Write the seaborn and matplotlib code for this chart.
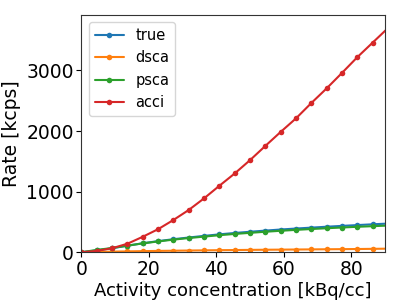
import numpy as np
import pandas as pd
import matplotlib
matplotlib.use("Agg")
import matplotlib.pyplot as plt
import seaborn as sns

# ── data ──────────────────────────────────────────────────────
activity = np.linspace(0, 100, 23)[:21]   # kBq/cc, last point lies past the x limit
true_rate = [0, 30, 66, 108, 148, 183, 215, 243, 270, 295, 318, 338, 357,
             375, 391, 406, 421, 435, 448, 461, 473]
dsca_rate = [0, 5, 10, 14, 18, 22, 25, 28, 31, 34, 36, 39, 41,
             43, 45, 47, 49, 51, 53, 56, 59]
psca_rate = [0, 38, 70, 108, 146, 178, 208, 234, 258, 281, 302, 320, 338,
             354, 369, 383, 396, 408, 420, 430, 440]
acci_rate = [0, 22, 66, 140, 255, 380, 532, 697, 889, 1097, 1300, 1520, 1755,
             1986, 2210, 2463, 2705, 2960, 3220, 3460, 3700]
series = ["true", "dsca", "psca", "acci"]

df = pd.DataFrame({
    "activity": np.tile(activity, 4),
    "rate": np.concatenate([true_rate, dsca_rate, psca_rate, acci_rate]),
    "kind": np.repeat(series, len(activity)),
})

# ── plot ──────────────────────────────────────────────────────
sns.set_style("ticks", {"axes.edgecolor": "0.2", "text.color": "black",
                        "axes.labelcolor": "black", "xtick.color": "black",
                        "ytick.color": "black"})
plt.rcParams["font.family"] = ["DejaVu Sans"]

fig = plt.figure(figsize=(4.07, 3.05), dpi=100)
ax = fig.add_axes([0.2, 0.173, 0.746, 0.778])

sns.lineplot(data=df, x="activity", y="rate", hue="kind", hue_order=series,
             palette=sns.color_palette("tab10", 4), marker="o", markersize=4,
             markeredgewidth=0, linewidth=1.5, ax=ax)

ax.set_xlim(0, 90)
ax.set_ylim(0, 3915)
ax.set_xticks([0, 20, 40, 60, 80])
ax.set_yticks([0, 1000, 2000, 3000])
ax.set_xlabel("Activity concentration [kBq/cc]", fontsize=13, labelpad=2)
ax.set_ylabel("Rate [kcps]", fontsize=13.5, labelpad=4)
ax.tick_params(labelsize=13.5, pad=2)
ax.legend(loc="upper left", fontsize=10.5)

fig.savefig("out.png", dpi=100)
